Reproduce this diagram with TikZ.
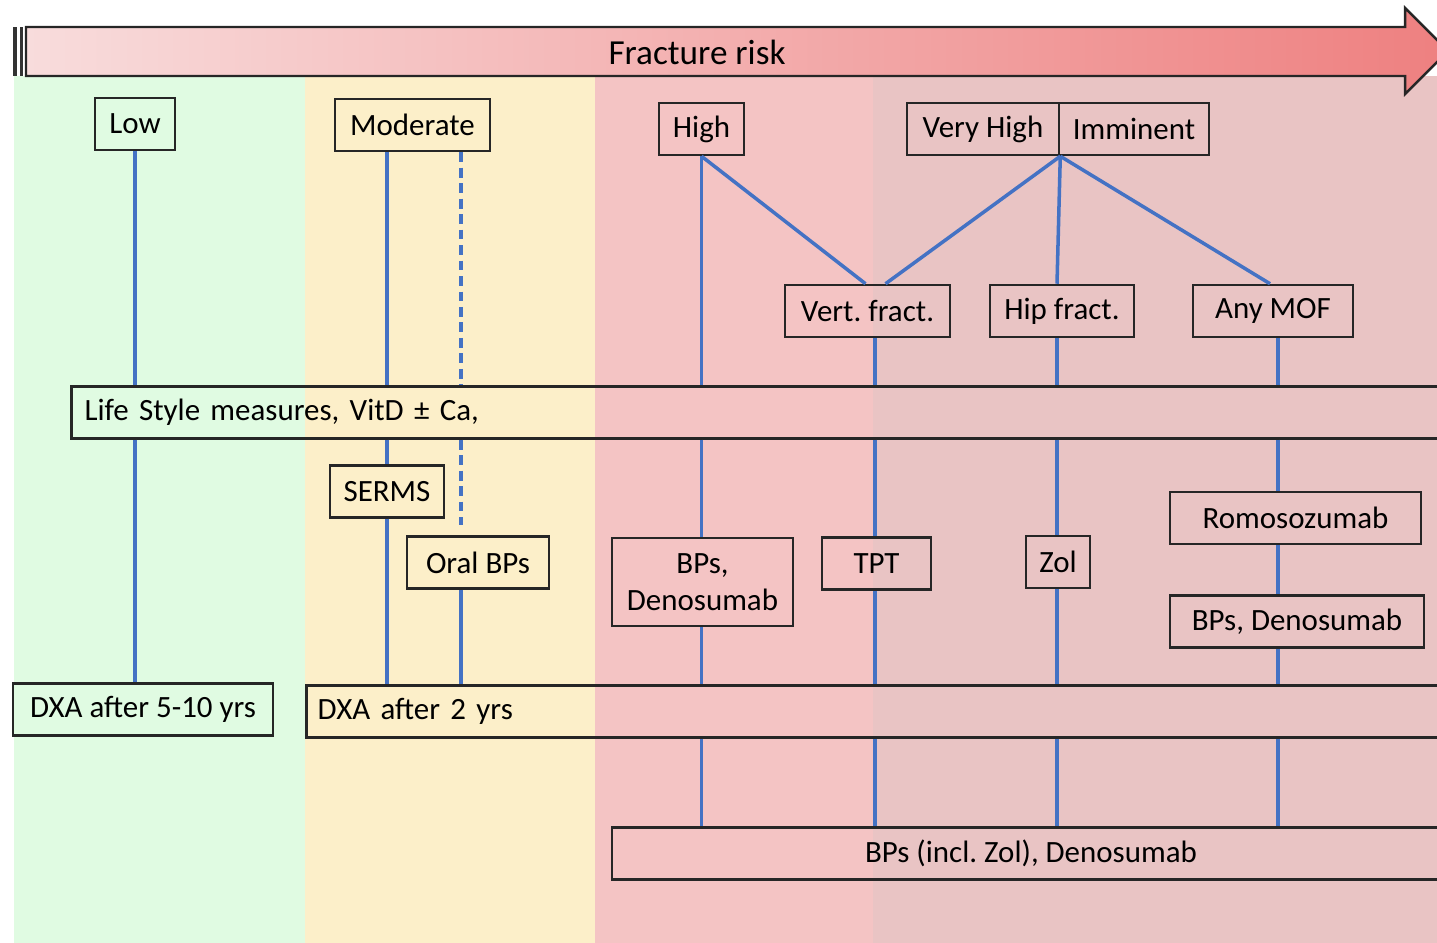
\documentclass[tikz,border=0pt]{standalone}
\usepackage{fontspec}
\setmainfont{Carlito}
\usepackage{xcolor}
\frenchspacing

\definecolor{lowgreen}{RGB}{224,251,226}
\definecolor{modyellow}{RGB}{252,239,201}
\definecolor{highred}{RGB}{244,196,196}
\definecolor{vhpink}{RGB}{233,196,196}
\definecolor{linkblue}{RGB}{68,114,196}
\definecolor{arrowleft}{RGB}{248,220,220}
\definecolor{arrowright}{RGB}{238,128,128}

\tikzset{
    box/.style={draw=black!85, line width=0.7pt, inner sep=0pt, minimum height=0.52cm,
        font=\fontsize{8.8}{10.5}\selectfont},
    link/.style={draw=linkblue, line width=1pt},
}

\begin{document}
\begin{tikzpicture}[x=0.01cm, y=-0.01cm]

    \useasboundingbox (0, 0) rectangle (1437, 943);
    \clip (0, 0) rectangle (1437, 943);

    % Risk bands in the back

    \fill[lowgreen] (14, 76) rectangle (305, 943);
    \fill[modyellow] (305, 76) rectangle (595, 943);
    \fill[highred] (595, 76) rectangle (873, 943);
    \fill[vhpink] (873, 76) rectangle (1437, 943);

    % Arrow on top

    \fill[black!80] (13, 27) rectangle (17, 76);
    \fill[black!80] (20, 27) rectangle (23, 76);
    \draw[line width=0.7pt, draw=black!85, left color=arrowleft, right color=arrowright]
        (26, 27) -- (1405, 27) -- (1405, 8) -- (1448, 51) -- (1405, 94) -- (1405, 76) -- (26, 76) -- cycle;
    \node[font=\fontsize{10}{12}\selectfont] (risk) at (697, 52) {Fracture risk};



    % Boxes

    \node[box, minimum width=0.80cm] (low) at (135, 124) {Low};
    \node[box, minimum width=1.55cm] (moderate) at (412.5, 125) {Moderate};
    \node[box, minimum width=0.85cm] (high) at (701.5, 129) {High};
    \node[box, minimum width=1.52cm] (vhigh) at (983, 129) {Very High};
    \node[box, minimum width=1.50cm] (immi) at (1134, 129) {Imminent};

    \node[box, minimum width=1.65cm] (vert) at (867.5, 311) {Vert. fract.};
    \node[box, minimum width=1.44cm] (hip) at (1062, 311) {Hip fract.};
    \node[box, minimum width=1.60cm] (mof) at (1273, 311) {Any MOF};

    \node[box, minimum width=13.78cm, text width=13.52cm, align=left, inner xsep=0.13cm]
        (life) at (761, 412.5) {Life Style measures, VitD \textpm{} Ca,};

    \node[box, minimum width=1.14cm] (serms) at (387, 491.5) {SERMS};
    \node[box, minimum width=1.42cm] (oral) at (478, 562.5) {Oral BPs};
    \node[box, minimum width=1.81cm, minimum height=0.88cm, align=center]
        (bpsden) at (702.5, 582) {BPs,\\Denosumab};
    \node[box, minimum width=1.09cm] (tpt) at (876.5, 563.5) {TPT};
    \node[box, minimum width=0.64cm] (zol) at (1058, 562) {Zol};
    \node[box, minimum width=2.51cm] (romo) at (1295.5, 518) {Romosozumab};
    \node[box, minimum width=2.54cm] (bpsden2) at (1297, 621.5) {BPs, Denosumab};

    \node[box, minimum width=2.60cm] (dxa5) at (143, 709.5) {DXA after 5-10 yrs};
    \node[box, minimum width=11.43cm, text width=11.21cm, align=left, inner xsep=0.11cm]
        (dxa2) at (878.5, 711.5) {DXA after 2 yrs};
    \node[box, minimum width=8.38cm] (bpsincl) at (1031, 853.5) {BPs (incl. Zol), Denosumab};



    % Columns of the blue lines

    \coordinate (cmod) at (387, 0);
    \coordinate (coral) at (461, 0);
    \coordinate (cvert) at (875, 0);
    \coordinate (chip) at (1057, 0);
    \coordinate (cmof) at (1278, 0);
    \coordinate (dend) at (461, 525);

    % Low
    \draw [link](low.south) -- (low.south |- life.north);
    \draw [link](low.south |- life.south) -- (low.south |- dxa5.north);

    % Moderate
    \draw [link](cmod |- moderate.south) -- (cmod |- life.north);
    \draw [link](cmod |- life.south) -- (serms.north);
    \draw [link](serms.south) -- (serms.south |- dxa2.north);
    \draw [link, dash pattern=on 2.8pt off 1.6pt](coral |- moderate.south) -- (coral |- life.north);
    \draw [link, dash pattern=on 2.8pt off 1.6pt](coral |- life.south) -- (dend);
    \draw [link](coral |- oral.south) -- (coral |- dxa2.north);

    % High
    \draw [link](high.south) -- (high.south |- life.north);
    \draw [link](high.south |- life.south) -- (high.south |- bpsden.north);
    \draw [link](high.south |- bpsden.south) -- (high.south |- dxa2.north);
    \draw [link](high.south |- dxa2.south) -- (high.south |- bpsincl.north);
    \draw [link](high.south) -- ([xshift=-0.02cm]vert.north);

    % Very high, imminent
    \draw [link](vhigh.south east) -- ([xshift=0.18cm]vert.north);
    \draw [link](vhigh.south east) -- ([xshift=-0.05cm]hip.north);
    \draw [link](vhigh.south east) -- ([xshift=-0.03cm]mof.north);

    \draw [link](cvert |- vert.south) -- (cvert |- life.north);
    \draw [link](cvert |- life.south) -- (cvert |- tpt.north);
    \draw [link](cvert |- tpt.south) -- (cvert |- dxa2.north);
    \draw [link](cvert |- dxa2.south) -- (cvert |- bpsincl.north);

    \draw [link](chip |- hip.south) -- (chip |- life.north);
    \draw [link](chip |- life.south) -- (chip |- zol.north);
    \draw [link](chip |- zol.south) -- (chip |- dxa2.north);
    \draw [link](chip |- dxa2.south) -- (chip |- bpsincl.north);

    \draw [link](cmof |- mof.south) -- (cmof |- life.north);
    \draw [link](cmof |- life.south) -- (cmof |- romo.north);
    \draw [link](cmof |- romo.south) -- (cmof |- bpsden2.north);
    \draw [link](cmof |- bpsden2.south) -- (cmof |- dxa2.north);
    \draw [link](cmof |- dxa2.south) -- (cmof |- bpsincl.north);

\end{tikzpicture}
\end{document}
